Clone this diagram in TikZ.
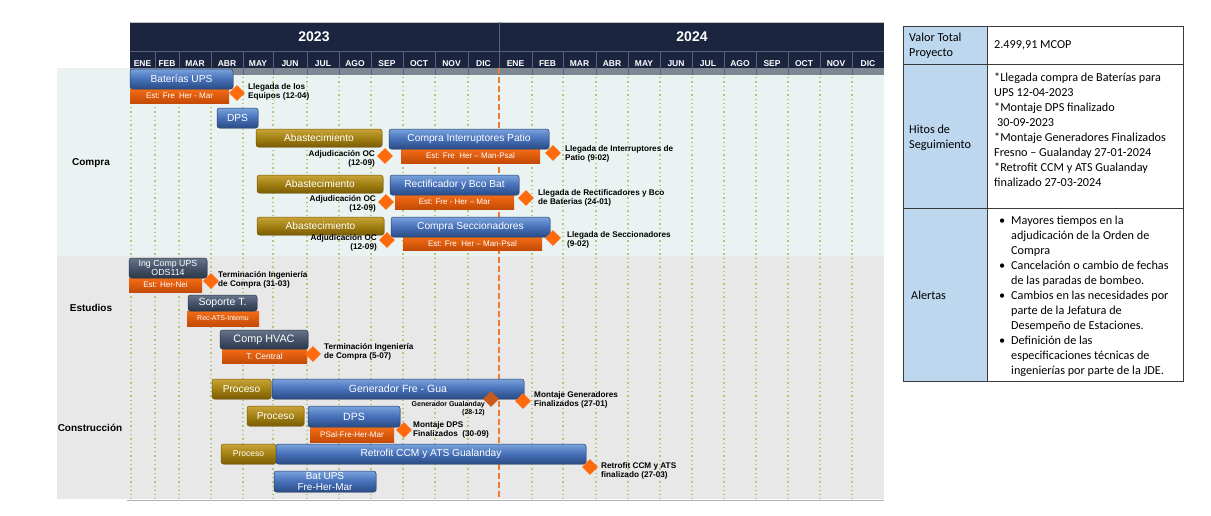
\documentclass[tikz,border=0pt]{standalone}
\usepackage{fontspec}
\setmainfont{Liberation Sans}
\newfontfamily\calfont{Carlito}
\usetikzlibrary{shapes.geometric,shadows}
\newcommand\fs[2]{\fontsize{#1}{#2}\selectfont}
\definecolor{navy}{HTML}{1B2540}
\definecolor{sepc}{HTML}{56617A}
\definecolor{bandgray}{HTML}{7E8893}
\definecolor{mint}{HTML}{EAF3F1}
\definecolor{lgray}{HTML}{E8E8E8}
\definecolor{dotc}{HTML}{B3C676}
\definecolor{yeardash}{HTML}{F07A30}
\definecolor{blueT}{HTML}{7AA2DC}
\definecolor{blueM}{HTML}{4670B8}
\definecolor{blueB}{HTML}{2A4B84}
\definecolor{blueD}{HTML}{27426F}
\definecolor{orT}{HTML}{F46C16}
\definecolor{orB}{HTML}{C44A05}
\definecolor{goldT}{HTML}{C9A43A}
\definecolor{goldM}{HTML}{A28012}
\definecolor{goldB}{HTML}{7A5C05}
\definecolor{darkT}{HTML}{67758A}
\definecolor{darkM}{HTML}{45536A}
\definecolor{darkB}{HTML}{2C3748}
\definecolor{dia}{HTML}{FF6A0D}
\definecolor{diadark}{HTML}{C85A1E}
\definecolor{tblue}{HTML}{BDD7EE}
\definecolor{tline}{HTML}{3A3A3A}
\tikzset{
  bar/.style={rectangle, inner sep=0pt, outer sep=0pt, text=white, align=center, font=\fs{10.2}{11}},
  bluebar/.style={bar, rounded corners=2.5pt, top color=blueT, bottom color=blueB, middle color=blueM, draw=blueD, line width=0.5pt, drop shadow={opacity=0.25, shadow xshift=0.8pt, shadow yshift=-0.8pt}},
  goldbar/.style={bar, rounded corners=2.5pt, top color=goldT, bottom color=goldB, middle color=goldM, draw=goldB, line width=0.5pt, drop shadow={opacity=0.25, shadow xshift=0.8pt, shadow yshift=-0.8pt}},
  darkbar/.style={bar, rounded corners=2.5pt, top color=darkT, bottom color=darkB, middle color=darkM, draw=darkB, line width=0.5pt, drop shadow={opacity=0.25, shadow xshift=0.8pt, shadow yshift=-0.8pt}},
  orbar/.style={bar, top color=orT, bottom color=orB, font=\fs{8}{9}},
  dmd/.style={diamond, fill=dia, inner sep=0pt, minimum width=16pt, minimum height=16pt},
  lbl/.style={inner sep=0pt, align=left, anchor=west, font=\bfseries\fs{8.2}{9}},
  lblr/.style={inner sep=0pt, align=right, anchor=east, font=\bfseries\fs{8.2}{9}},
  sect/.style={inner sep=0pt, font=\bfseries\fs{10}{11}},
  month/.style={inner sep=0pt, text=white, font=\bfseries\fs{8.5}{9}},
  year/.style={inner sep=0pt, text=white, font=\bfseries\fs{14}{15}},
  ttext/.style={inner sep=0pt, align=left, anchor=west, font=\calfont\fs{12.2}{15}},
  dotline/.style={draw=dotc, line width=1.3pt, dash pattern=on 1.3pt off 3pt},
}
\newcommand\gbar[7]{\node[#2, anchor=north west, minimum width={(#5)-(#3)}, minimum height={(#6)-(#4)}] (#1) at (#3,#4) {#7};}
\begin{document}
\begin{tikzpicture}[x=1pt,y=-1pt]
\useasboundingbox (0,0) rectangle (1211,515);
% backgrounds
\fill[mint] (57,68) rectangle (884,256);
\fill[lgray] (57,256) rectangle (884,499);
\draw[black!30, line width=1pt] (127,500.5) -- (884,500.5);
% header
\fill[navy] (130,22) rectangle (884,68);
\draw[black!25, line width=1pt] (130,22) -- (884,22);
\fill[bandgray] (130,68) rectangle (884,75);
\draw[sepc, line width=0.8pt] (130,51) -- (884,51);
\draw[sepc, line width=0.8pt] (499,22) -- (499,51);
\foreach \x in {155,179,211,243,273,307,339,371,403,435,468,499,532,563,596,628,660,692,724,756,788,820,852}
  \draw[sepc, line width=0.8pt] (\x,51) -- (\x,75);
\node[year] (y23) at (314,37) {2023};
\node[year] (y24) at (692,37) {2024};
\foreach \a/\b/\m [count=\i] in {130/155/ENE,155/179/FEB,179/211/MAR,211/243/ABR,243/273/MAY,273/307/JUN,307/339/JUL,339/371/AGO,371/403/SEP,403/435/OCT,435/468/NOV,468/499/DIC,499/532/ENE,532/563/FEB,563/596/MAR,596/628/ABR,628/660/MAY,660/692/JUN,692/724/JUL,724/756/AGO,756/788/SEP,788/820/OCT,820/852/NOV,852/884/DIC}
  \node[month] (m\i) at ({(\a+\b)/2},64) {\m};
% grid
\foreach \x in {131,155,179,211,243,273,307,339,371,403,435,468,532,563,596,628,660,692,724,756,788,820,852}
  \draw[dotline] (\x,77) -- (\x,499);
\draw[draw=yeardash, line width=1.5pt, dash pattern=on 6pt off 3pt] (499,68) -- (499,499);
% section labels
\node[sect] (sc) at (91,163) {Compra};
\node[sect] (se) at (91,308) {Estudios};
\node[sect] (sk) at (90,428) {Construcción};
% ---- Compra
\gbar{batS}{orbar}{130}{89}{229}{103}{Est: Fre~~Her - Mar}
\gbar{bat}{bluebar}{130}{69}{233}{89}{Baterías UPS}
\gbar{dps}{bluebar}{217}{108}{258}{128}{DPS}
\gbar{ab1}{goldbar}{256}{129}{382}{147}{Abastecimiento}
\gbar{cipS}{orbar}{401}{149}{540}{163}{Est: Fre~~Her – Man-Psal}
\gbar{cip}{bluebar}{389}{129}{549}{149}{Compra Interruptores Patio}
\gbar{ab2}{goldbar}{257}{175}{383}{193}{Abastecimiento}
\gbar{recS}{orbar}{395}{195}{514}{209}{Est: Fre - Her – Mar}
\gbar{rec}{bluebar}{390}{175}{519}{195}{Rectificador y Bco Bat}
\gbar{ab3}{goldbar}{257}{217}{384}{235}{Abastecimiento}
\gbar{secS}{orbar}{403}{237}{542}{250}{Est: Fre~~Her – Man-Psal}
\gbar{sec}{bluebar}{391}{217}{550}{237}{Compra Seccionadores}
\node[dmd] (d1) at (237,93) {};
\node[lbl] (l1) at (248,91.5) {Llegada de los\\Equipos (12-04)};
\node[dmd] (d2) at (385,156) {};
\node[lblr] (l2) at (375,158.5) {Adjudicación OC\\(12-09)};
\node[dmd] (d3) at (553,153) {};
\node[lbl] (l3) at (565,153.5) {Llegada de Interruptores de\\Patio (9-02)};
\node[dmd] (d4) at (386,202) {};
\node[lblr] (l4) at (376,204) {Adjudicación OC\\(12-09)};
\node[dmd] (d5) at (526,198) {};
\node[lbl] (l5) at (538,198) {Llegada de Rectificadores y Bco\\de Baterias (24-01)};
\node[dmd] (d6) at (387,240) {};
\node[lblr] (l6) at (377,242.5) {Adjudicación OC\\(12-09)};
\node[dmd] (d7) at (553,238) {};
\node[lbl] (l7) at (567,239.5) {Llegada de Seccionadores\\(9-02)};
% ---- Estudios
\gbar{ingS}{orbar}{129}{278}{202}{292}{Est: Her-Nei}
\gbar{ing}{darkbar, font=\fs{8.8}{9}}{129}{258}{207}{278}{Ing Comp UPS\\ODS114}
\gbar{sopS}{orbar, font=\fs{7}{8}}{187}{311}{259}{326}{Rec-ATS-Intemu}
\gbar{sop}{darkbar, font=\fs{10.5}{11}}{188}{295}{257}{311}{Soporte T.}
\gbar{hvS}{orbar, font=\fs{8.5}{9}}{222}{349}{307}{363}{T. Central}
\gbar{hv}{darkbar, font=\fs{10.8}{11}}{220}{330}{308}{349}{Comp HVAC}
\node[dmd] (d8) at (211,281) {};
\node[lbl] (l8) at (218,279.5) {Terminación Ingeniería\\de Compra (31-03)};
\node[dmd] (d9) at (313,354) {};
\node[lbl] (l9) at (324,352) {Terminación Ingeniería\\de Compra (5-07)};
% ---- Construccion
\gbar{pr1}{goldbar}{212}{379}{271}{399}{Proceso}
\gbar{gen}{bluebar, font=\fs{10.5}{11}}{272}{379}{524}{399}{Generador Fre - Gua}
\gbar{pr2}{goldbar}{247}{406}{304}{426}{Proceso}
\gbar{dpsS}{orbar}{310}{427}{394}{442}{PSal-Fre-Her-Mar}
\gbar{dps2}{bluebar, font=\fs{10.5}{11}}{308}{406}{400}{427}{DPS}
\gbar{pr3}{goldbar, font=\fs{8.5}{9}}{221}{444}{276}{464}{Proceso}
\gbar{ret}{bluebar}{276}{444}{586}{464}{Retrofit CCM y ATS Gualanday}
\gbar{bups}{bluebar, font=\fs{10}{10.5}}{274}{471}{376}{492}{Bat UPS\\Fre-Her-Mar}
\node[dmd, fill=diadark] (d10) at (491,399) {};
\node[lblr, font=\bfseries\fs{7}{8.5}] (l10) at (485,408.5) {Generador Gualanday\\(28-12)};
\node[dmd] (d11) at (523,401) {};
\node[lbl] (l11) at (534,400) {Montaje Generadores\\Finalizados (27-01)};
\node[dmd] (d12) at (404,430) {};
\node[lbl] (l12) at (413,429.5) {Montaje DPS\\Finalizados~~(30-09)};
\node[dmd] (d13) at (590,467) {};
\node[lbl] (l13) at (601,470.5) {Retrofit CCM y ATS\\finalizado (27-03)};
% ---- table
\fill[tblue] (903,26) rectangle (987,381);
\draw[tline, line width=1pt] (903,26) rectangle (1183,381);
\draw[tline, line width=1pt] (987,26) -- (987,381);
\draw[tline, line width=1pt] (903,64) -- (1183,64);
\draw[tline, line width=1pt] (903,208) -- (1183,208);
\node[ttext] (t1) at (909,45.5) {Valor Total\\Proyecto};
\node[ttext] (t2) at (994,45) {2.499,91 MCOP};
\node[ttext] (t3) at (909,137.5) {Hitos de\\Seguimiento};
\node[ttext] (t4) at (994,129.5) {*Llegada compra de Baterías para\\UPS 12-04-2023\\*Montaje DPS finalizado\\\hspace*{3pt}30-09-2023\\*Montaje Generadores Finalizados\\Fresno – Gualanday 27-01-2024\\*Retrofit CCM y ATS Gualanday\\finalizado 27-03-2024};
\node[ttext] (t5) at (911,295) {Alertas};
\node[ttext] (t6) at (999,296) {\makebox[12pt][l]{•}Mayores tiempos en la\\\hspace*{12pt}adjudicación de la Orden de\\\hspace*{12pt}Compra\\\makebox[12pt][l]{•}Cancelación o cambio de fechas\\\hspace*{12pt}de las paradas de bombeo.\\\makebox[12pt][l]{•}Cambios en las necesidades por\\\hspace*{12pt}parte de la Jefatura de\\\hspace*{12pt}Desempeño de Estaciones.\\\makebox[12pt][l]{•}Definición de las\\\hspace*{12pt}especificaciones técnicas de\\\hspace*{12pt}ingenierías por parte de la JDE.};
\end{tikzpicture}
\end{document}
